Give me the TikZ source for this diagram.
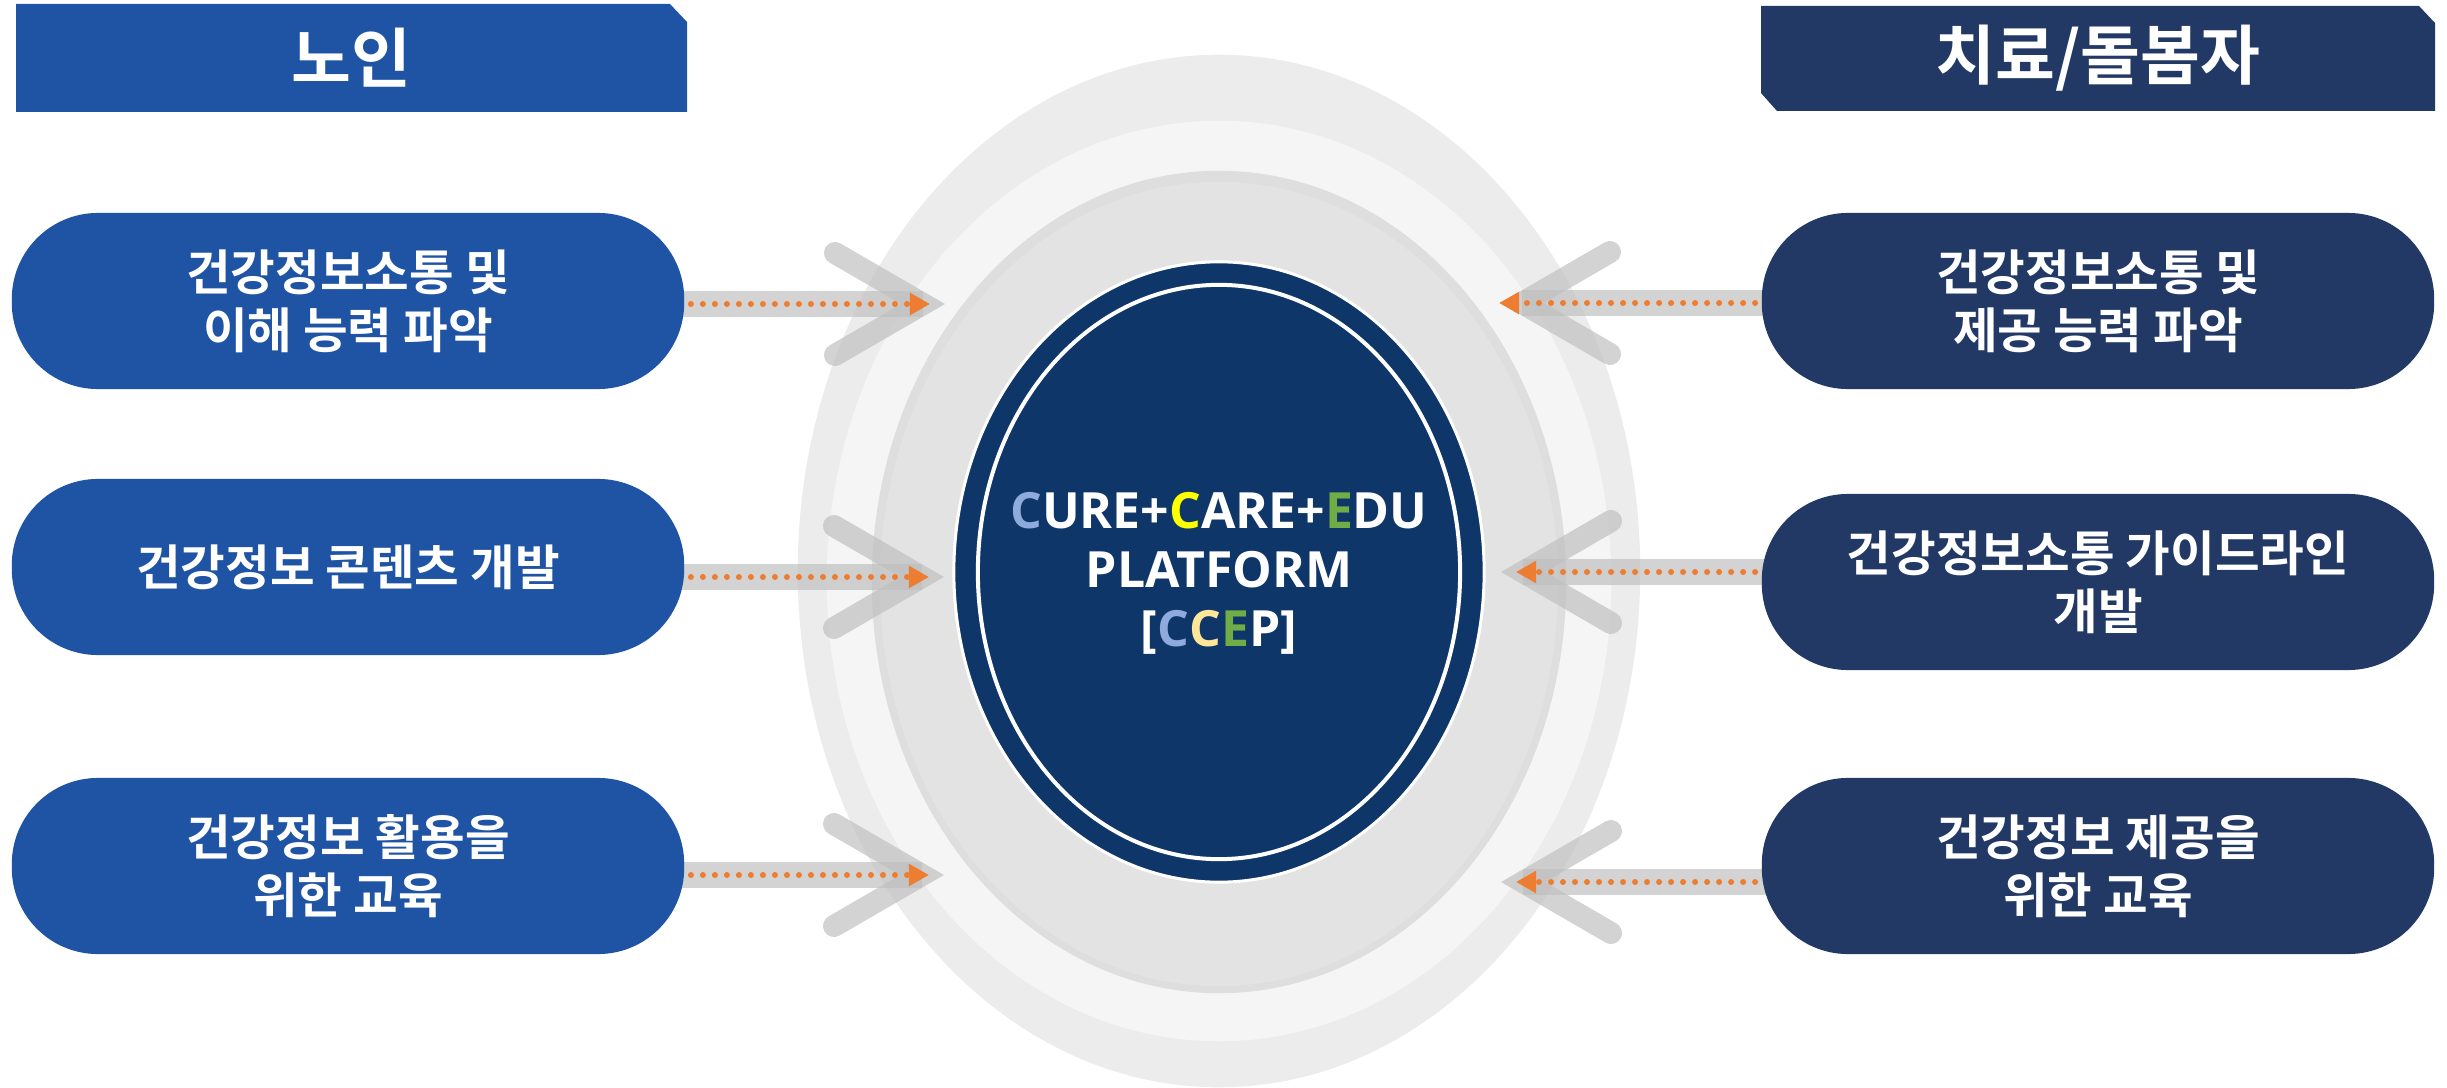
\documentclass[tikz,border=0pt]{standalone}
\usepackage{fontspec}
\usepackage{xcolor}
\usepackage{tikz}
\usetikzlibrary{shapes,arrows,positioning,calc,backgrounds,arrows.meta}
\newfontfamily\kofont{Noto Sans CJK KR}[BoldFont={Noto Sans CJK KR Bold}]
\newfontfamily\enfont{Open Sans}
\definecolor{leftblue}{HTML}{1F53A3}
\definecolor{rightnavy}{HTML}{223865}
\definecolor{corenavy}{HTML}{0E3669}
\definecolor{dotorange}{HTML}{ED7D31}
\definecolor{arrowgray}{HTML}{C0C0C0}
\definecolor{cblue}{HTML}{8FAADC}
\definecolor{cyellow}{HTML}{FFFF00}
\definecolor{cgreen}{HTML}{70AD47}
\definecolor{cpale}{HTML}{FFE699}

\begin{document}
\begin{tikzpicture}[x=0.01cm, y=-0.01cm,
    hdr/.style={text=white, font=\kofont\bfseries\fontsize{18.5}{22}\selectfont},
    lbox/.style={rectangle, rounded corners=0.86cm, minimum width=6.72cm, minimum height=1.76cm,
        inner sep=0pt, fill=leftblue, text=white, align=center,
        font=\kofont\bfseries\fontsize{13.8}{16.5}\selectfont},
    rbox/.style={lbox, fill=rightnavy},
    core/.style={ellipse, fill=corenavy, draw=white, line width=0.03cm, minimum width=5.30cm,
        minimum height=6.20cm, inner sep=0pt},
    coretext/.style={text=white, align=center, inner sep=0pt,
        font=\enfont\bfseries\fontsize{14.2}{16.8}\selectfont},
    shaft/.style={draw=arrowgray, opacity=0.7, line width=0.26cm},
    chev/.style={draw=arrowgray, opacity=0.7, line width=0.22cm, line cap=round, line join=miter},
    dotline/.style={draw=dotorange, line width=0.06cm, line cap=round, dash pattern=on 0pt off 0.12cm,
        -{Triangle[length=0.2cm, width=0.21cm]}}]
    \useasboundingbox (0,0) rectangle (2447,1088);

    % Headers
    \fill[leftblue] (16,4) -- (670,4) -- (687,22) -- (687,112) -- (16,112) -- cycle;
    \node[hdr] (old) at (351,58) {노인};
    \fill[rightnavy] (1761,6) -- (2419,6) -- (2435,23) -- (2435,111) -- (1777,111) -- (1761,93) -- cycle;
    \node[hdr] (care) at (2098,58) {치료/돌봄자};

    % Boxes
    \node[lbox] (l1) at (348,301) {건강정보소통 및\\이해 능력 파악};
    \node[lbox] (l2) at (348,567) {건강정보 콘텐츠 개발};
    \node[lbox] (l3) at (348,866) {건강정보 활용을\\위한 교육};
    \node[rbox] (r1) at (2098,301) {건강정보소통 및\\제공 능력 파악};
    \node[rbox] (r2) at (2098,582) {건강정보소통 가이드라인\\개발};
    \node[rbox] (r3) at (2098,866) {건강정보 제공을\\위한 교육};

    % Platform
    \node[core] (core) at (1219,572) {};
    \draw[white, line width=0.04cm] (core.center) ellipse [x radius=2.41cm, y radius=2.87cm];
    \node[coretext] (ccep) at (1219,573) {\textcolor{cblue}{C}URE+\textcolor{cyellow}{C}ARE+\textcolor{cgreen}{E}DU\\
        PLATFORM\\{[}\textcolor{cblue}{C}\textcolor{cpale}{C}\textcolor{cgreen}{E}P]};

    % Arrow heads
    \coordinate (vL1) at (923,304);
    \coordinate (vL2) at (922,577);
    \coordinate (vL3) at (922,875);
    \coordinate (vR1) at (1522,303);
    \coordinate (vR2) at (1523,572);
    \coordinate (vR3) at (1523,882);

    \begin{scope}[on background layer]
        % Rings
        \fill[gray!15] (1219,571) ellipse [x radius=4.21cm, y radius=5.16cm];
        \fill[gray!8] (1219,581) ellipse [x radius=3.92cm, y radius=4.60cm];
        \fill[gray!26] (1219,582) ellipse [x radius=3.47cm, y radius=4.11cm];
        \fill[gray!22] (1219,584) ellipse [x radius=3.39cm, y radius=4.02cm];

        % Left arrows
        \draw[shaft] (l1.center |- vL1) -- (vL1);
        \draw[chev] ($(vL1)+(-88,-51)$) -- (vL1) -- ($(vL1)+(-88,51)$);
        \draw[shaft] (l2.center |- vL2) -- (vL2);
        \draw[chev] ($(vL2)+(-88,-51)$) -- (vL2) -- ($(vL2)+(-88,51)$);
        \draw[shaft] (l3.center |- vL3) -- (vL3);
        \draw[chev] ($(vL3)+(-88,-51)$) -- (vL3) -- ($(vL3)+(-88,51)$);

        % Right arrows
        \draw[shaft] (r1.center |- vR1) -- (vR1);
        \draw[chev] ($(vR1)+(88,-51)$) -- (vR1) -- ($(vR1)+(88,51)$);
        \draw[shaft] (r2.center |- vR2) -- (vR2);
        \draw[chev] ($(vR2)+(88,-51)$) -- (vR2) -- ($(vR2)+(88,51)$);
        \draw[shaft] (r3.center |- vR3) -- (vR3);
        \draw[chev] ($(vR3)+(88,-51)$) -- (vR3) -- ($(vR3)+(88,51)$);
    \end{scope}

    % Dotted flows
    \draw[dotline] ($(l1.east |- vL1)+(6,0)$) -- ($(vL1)+(7,0)$);
    \draw[dotline] ($(l2.east |- vL2)+(6,0)$) -- ($(vL2)+(7,0)$);
    \draw[dotline] ($(l3.east |- vL3)+(6,0)$) -- ($(vL3)+(7,0)$);
    \draw[dotline] ($(r1.west |- vR1)+(-6,0)$) -- ($(vR1)+(-23,0)$);
    \draw[dotline] ($(r2.west |- vR2)+(-6,0)$) -- ($(vR2)+(-7,0)$);
    \draw[dotline] ($(r3.west |- vR3)+(-6,0)$) -- ($(vR3)+(-7,0)$);
\end{tikzpicture}
\end{document}
